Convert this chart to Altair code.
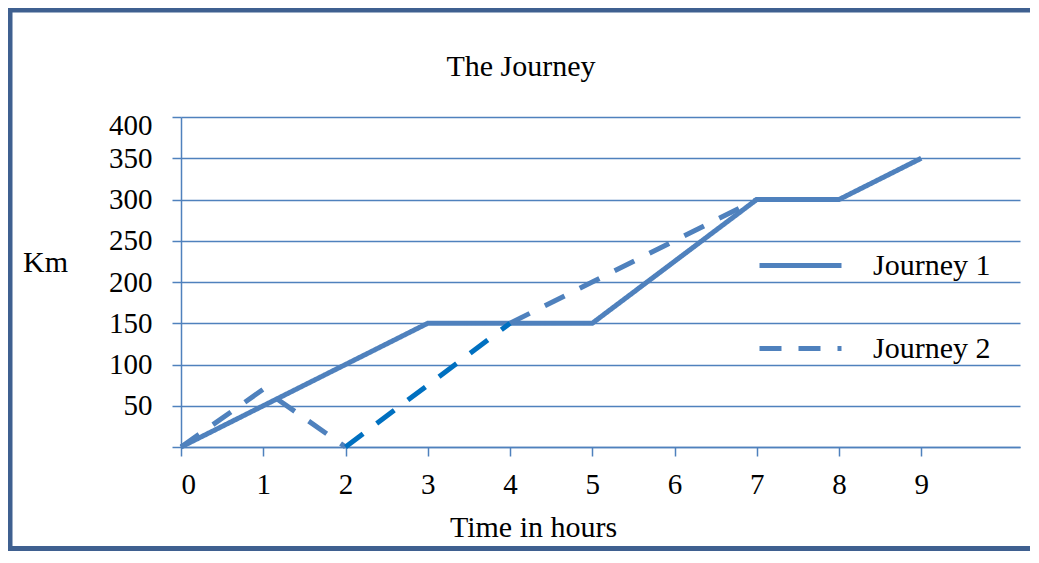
import altair as alt
import pandas as pd

# ---- data ----
hours_j1 = [0, 1, 2, 3, 4, 5, 6, 7, 8, 9]
km_j1 = [0, 50, 100, 150, 150, 150, 225, 300, 300, 350]
hours_j2 = [0, 1, 2, 3, 4, 5, 6, 7]
km_j2 = [0, 70, 0, 75, 150, 200, 250, 300]
series_names = ["Journey 1", "Journey 2"]
x_ticks = [0, 1, 2, 3, 4, 5, 6, 7, 8, 9]
y_ticks = [0, 50, 100, 150, 200, 250, 300, 350, 400]
# Journey 2 pieces (index ranges); piece "b" is drawn in a brighter blue
j2_pieces = [("a", 0, 2), ("b", 2, 4), ("c", 4, 7)]

rows = []
for t, k in zip(hours_j1, km_j1):
    rows.append({"time": t, "km": k, "series": series_names[0], "piece": "j1"})
for name, lo, hi in j2_pieces:
    for i in range(lo, hi + 1):
        rows.append({"time": hours_j2[i], "km": km_j2[i], "series": series_names[1], "piece": name})
df = pd.DataFrame(rows)

BLUE = "#4F81BD"
BRIGHT = "#0070C0"
FRAME = "#3F6090"
FONT = "Liberation Serif"
DASH = [22, 17]

x_enc = alt.X("time:Q",
              scale=alt.Scale(domain=[0, 10.2], nice=False, zero=False),
              axis=alt.Axis(values=x_ticks, grid=False, title="Time in hours",
                            titleX=352, titleY=80, titleBaseline="middle",
                            titleAlign="center", tickSize=9, labelPadding=14,
                            labelOverlap=False, format="d"))
y_enc = alt.Y("km:Q",
              scale=alt.Scale(domain=[0, 400], nice=False),
              axis=alt.Axis(values=y_ticks, grid=True, title="Km", titleAngle=0,
                            titleX=-136, titleY=145, titleAlign="center",
                            titleBaseline="middle", tickSize=9, labelPadding=20,
                            labelOverlap=False,
                            labelOffset=alt.condition("datum.value == 400",
                                                      alt.value(8), alt.value(0)),
                            labelExpr="datum.value == 0 ? '' : datum.label"))

main = alt.Chart(df).transform_filter("datum.piece != 'b'").mark_line(strokeWidth=5).encode(
    x=x_enc,
    y=y_enc,
    color=alt.Color("series:N", scale=alt.Scale(domain=series_names, range=[BLUE, BLUE]),
                    legend=alt.Legend(title=None, orient="none", legendX=576, legendY=105,
                                      symbolType="stroke", symbolSize=6724,
                                      symbolStrokeWidth=5, labelFontSize=30,
                                      labelFont=FONT, labelColor="black",
                                      labelOffset=29, rowPadding=24, padding=0)),
    strokeDash=alt.StrokeDash("series:N",
                              scale=alt.Scale(domain=series_names, range=[[1, 0], DASH]),
                              legend=None),
    detail="piece:N",
)

seg_b = alt.Chart(df).transform_filter("datum.piece == 'b'").mark_line(
    strokeWidth=5, color=BRIGHT, strokeDash=DASH).encode(
    x="time:Q", y="km:Q")

# outer frame of the chart (top, left and bottom edges)
frame_top = alt.Chart(alt.Data(values=[{"k": 1}])).mark_rule(
    stroke=FRAME, strokeWidth=5).encode(
    x=alt.value(-173.5), x2=alt.value(849), y=alt.value(-107))
frame_left = alt.Chart(alt.Data(values=[{"k": 1}])).mark_rule(
    stroke=FRAME, strokeWidth=5).encode(
    x=alt.value(-171), y=alt.value(-109.5), y2=alt.value(434))
frame_bottom = alt.Chart(alt.Data(values=[{"k": 1}])).mark_rule(
    stroke=FRAME, strokeWidth=5).encode(
    x=alt.value(-173.5), x2=alt.value(849), y=alt.value(431.5))

title = alt.Chart(alt.Data(values=[{"k": 1}])).mark_text(
    font=FONT, fontSize=30, color="black", baseline="middle", align="center").encode(
    x=alt.value(340), y=alt.value(-50), text=alt.value("The Journey"))

chart = alt.layer(frame_top, frame_left, frame_bottom, title, main, seg_b).properties(
    width=839, height=330,
    autosize=alt.AutoSizeParams(type="none"),
    padding={"left": 173, "top": 109, "right": 11, "bottom": 104},
    background="white",
).configure_view(stroke=None).configure_axis(
    domainColor=BLUE, domainWidth=1.5, tickColor=BLUE, tickWidth=1.5,
    gridColor=BLUE, gridWidth=1.5,
    labelFont=FONT, labelFontSize=29, labelColor="black",
    titleFont=FONT, titleFontSize=30, titleColor="black", titleFontWeight="normal",
)

chart.save("out.html", embed_options={"renderer": "svg", "actions": False})
